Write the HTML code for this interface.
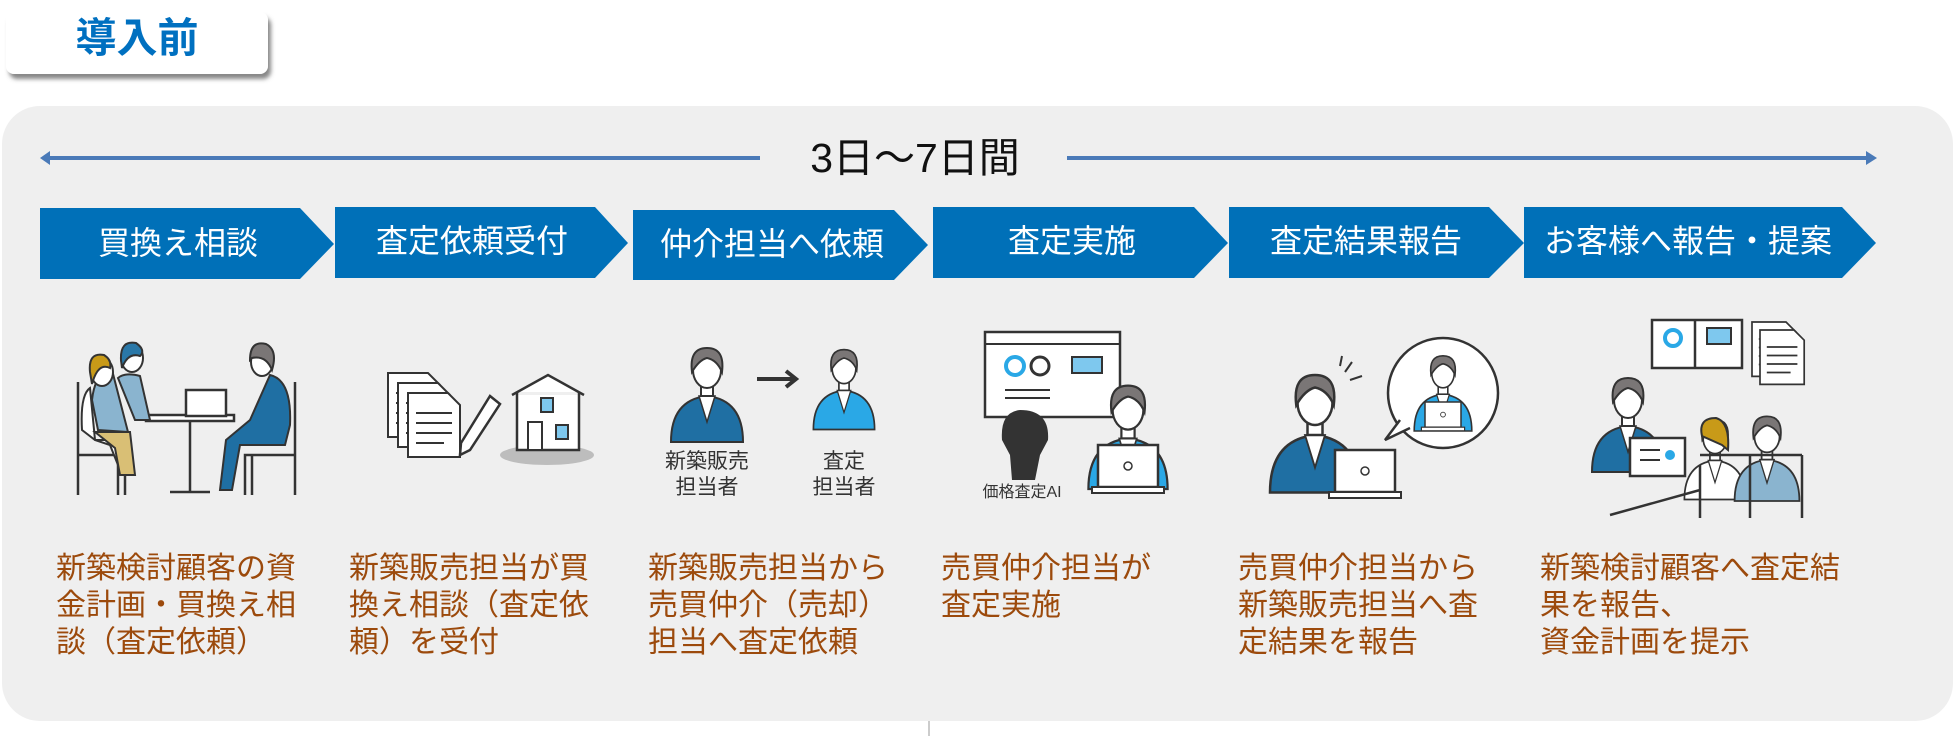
<!DOCTYPE html>
<html><head><meta charset="utf-8"><style>
html,body{margin:0;padding:0;background:#fff;}
svg{display:block;font-family:"Liberation Sans","Noto Sans CJK JP",sans-serif;}
</style></head><body>
<svg width="1955" height="736" viewBox="0 0 1955 736" xmlns="http://www.w3.org/2000/svg">
<defs>
<filter id="sh" x="-10%" y="-10%" width="130%" height="150%"><feDropShadow dx="3" dy="5" stdDeviation="2" flood-color="#555" flood-opacity="0.7"/></filter>
<g id="pers">
 <path d="M-36,70 Q-36,28 0,24 Q36,28 36,70 Z" fill="currentColor" stroke="#333" stroke-width="2"/>
 <path d="M-8,24 L0,50 L8,24 Z" fill="#fff" stroke="#333" stroke-width="1.5"/>
 <rect x="-6" y="8" width="12" height="16" fill="#fff" stroke="#333" stroke-width="2"/>
 <ellipse cx="0" cy="-2" rx="14" ry="18" fill="#fff" stroke="#333" stroke-width="2"/>
 <path d="M-15,0 Q-18,-24 0,-24 Q18,-24 15,0 Q10,-12 0,-14 Q-8,-12 -15,0Z" fill="#7a7676" stroke="#333" stroke-width="2"/>
</g>
<g id="lap">
 <rect x="0" y="0" width="60" height="42" fill="#fff" stroke="#333" stroke-width="2.5"/>
 <rect x="-6" y="42" width="72" height="6" fill="#fff" stroke="#333" stroke-width="2"/>
 <circle cx="30" cy="21" r="4" fill="none" stroke="#333" stroke-width="1.5"/>
</g>
<g id="doc">
 <path d="M0,0 H40 L52,12 V64 H0 Z" fill="#fff" stroke="#333" stroke-width="2"/>
 <path d="M8,20H44M8,30H44M8,40H44M8,50H36" stroke="#333" stroke-width="2"/>
</g>
</defs>

<!-- title -->
<rect x="6" y="12" width="262" height="62" rx="8" fill="#fff" filter="url(#sh)"/>
<text x="137" y="52" text-anchor="middle" font-size="41" font-weight="bold" fill="#0070c0">導入前</text>

<!-- panel -->
<rect x="2" y="106" width="1951" height="615" rx="38" fill="#efefef"/>
<line x1="929" y1="721" x2="929" y2="736" stroke="#bbb" stroke-width="1.5"/>

<!-- duration arrow -->
<line x1="46" y1="158" x2="760" y2="158" stroke="#4a7ab8" stroke-width="4"/>
<path d="M40,158 L50,151 L50,165 Z" fill="#4a7ab8"/>
<line x1="1067" y1="158" x2="1868" y2="158" stroke="#4a7ab8" stroke-width="4"/>
<path d="M1877,158 L1866,151 L1866,165 Z" fill="#4a7ab8"/>
<text x="915" y="172" text-anchor="middle" font-size="41" fill="#111">3日～7日間</text>

<!-- chevrons -->
<g fill="#0070b8">
 <path d="M40,208 H300 L334,244 L300,279 H40 Z"/>
 <path d="M335,207 H595 L628,243 L595,278 H335 Z"/>
 <path d="M633,210 H894 L928,245 L894,280 H633 Z"/>
 <path d="M933,207 H1194 L1228,243 L1194,278 H933 Z"/>
 <path d="M1229,207 H1489 L1524,243 L1489,278 H1229 Z"/>
 <path d="M1524,207 H1842 L1876,243 L1842,278 H1524 Z"/>
</g>
<g fill="#fff" font-size="32" text-anchor="middle">
 <text x="178" y="254">買換え相談</text>
 <text x="472" y="252">査定依頼受付</text>
 <text x="772" y="255">仲介担当へ依頼</text>
 <text x="1072" y="252">査定実施</text>
 <text x="1366" y="252">査定結果報告</text>
 <text x="1688" y="252">お客様へ報告・提案</text>
</g>

<!-- illus 1: consultation -->
<g stroke="#333" stroke-width="2.5" fill="none">
 <path d="M78,382 V495 M78,455 H125 V495 M118,455 V495"/>
 <path d="M295,382 V495 M295,455 H245 V495 M252,455 V495"/>
 <rect x="146" y="415" width="88" height="6" fill="#fff"/>
 <path d="M190,421 V492 M170,492 H210"/>
 <rect x="186" y="390" width="40" height="26" fill="#fff"/>
</g>
<g stroke="#333" stroke-width="2">
 <path d="M112,370 Q95,372 92,400 L98,430 L128,432 Z" fill="#8ab4cf"/>
 <path d="M90,388 Q80,395 82,430 L95,440 H130 L132,470 L120,470 L110,445 L95,440 Z" fill="#fff"/>
 <path d="M95,432 H130 L135,475 H120 L115,448 Z" fill="#d9bf75"/>
 <ellipse cx="102" cy="372" rx="11" ry="14" fill="#fff"/>
 <path d="M90,372 Q88,352 104,355 Q112,360 110,368 Q98,362 92,384Z" fill="#c89a18"/>
 <ellipse cx="132" cy="358" rx="11" ry="14" fill="#fff"/>
 <path d="M121,360 Q120,340 136,343 Q146,350 140,356 Q128,352 122,368Z" fill="#2a78a8"/>
 <path d="M118,378 Q125,372 140,376 L150,420 L135,420 Z" fill="#8ab4cf"/>
 <path d="M270,375 Q292,380 290,425 L285,445 H240 L232,490 H220 L226,440 L250,420 Z" fill="#1f6fa3"/>
 <ellipse cx="262" cy="362" rx="11" ry="14" fill="#fff"/>
 <path d="M250,360 Q250,340 266,344 Q278,350 272,370 Q266,355 252,358Z" fill="#7a7676"/>
</g>

<!-- illus 2: docs + house -->
<use href="#doc" x="388" y="373"/>
<use href="#doc" x="398" y="383"/>
<use href="#doc" x="408" y="393"/>
<path d="M490,396 L500,404 L470,450 L460,455 L461,443 Z" fill="#fff" stroke="#333" stroke-width="2.5"/>
<ellipse cx="547" cy="455" rx="47" ry="10" fill="#bdbdbd"/>
<path d="M512,395 L548,375 L584,395 M517,392 V450 H579 V392" fill="#fff" stroke="#333" stroke-width="2.5"/>
<rect x="541" y="398" width="12" height="14" fill="#7ec8ee" stroke="#333" stroke-width="2"/>
<rect x="556" y="425" width="12" height="14" fill="#7ec8ee" stroke="#333" stroke-width="2"/>
<rect x="528" y="422" width="14" height="28" fill="#fff" stroke="#333" stroke-width="2"/>

<!-- illus 3: two persons -->
<use href="#pers" x="707" y="372" style="color:#1f6fa3"/>
<use href="#pers" transform="translate(844,370) scale(0.85)" style="color:#2aa8e6"/>
<path d="M757,379 H794 M786,371 L796,379 L786,387" stroke="#333" stroke-width="4" fill="none"/>
<g font-size="21" fill="#333" text-anchor="middle">
 <text x="707" y="468">新築販売</text><text x="707" y="494">担当者</text>
 <text x="844" y="468">査定</text><text x="844" y="494">担当者</text>
</g>

<!-- illus 4: AI -->
<rect x="985" y="332" width="135" height="85" fill="#fff" stroke="#333" stroke-width="2.5"/>
<line x1="985" y1="344" x2="1120" y2="344" stroke="#333" stroke-width="2"/>
<circle cx="1015" cy="366" r="9" fill="#fff" stroke="#2aa8e6" stroke-width="4"/>
<circle cx="1040" cy="366" r="9" fill="#fff" stroke="#333" stroke-width="3"/>
<rect x="1072" y="357" width="30" height="16" fill="#7ec8ee" stroke="#333" stroke-width="2"/>
<path d="M1005,390 H1050 M1005,398 H1050" stroke="#333" stroke-width="2"/>
<path d="M1020,410 Q1000,412 1002,440 L1010,455 L1012,480 H1035 L1040,455 L1048,440 Q1050,410 1020,410Z" fill="#333"/>
<text x="1022" y="497" font-size="16" fill="#333" text-anchor="middle">価格査定AI</text>
<use href="#pers" transform="translate(1128,412) scale(1.1)" style="color:#2aa8e6"/>
<use href="#lap" x="1098" y="445"/>

<!-- illus 5: phone -->
<circle cx="1443" cy="393" r="55" fill="#fff" stroke="#333" stroke-width="2.5"/>
<path d="M1400,420 L1385,440 L1410,428" fill="#fff" stroke="#333" stroke-width="2.5"/>
<use href="#pers" transform="translate(1443,375) scale(0.8)" style="color:#2aa8e6"/>
<use href="#lap" transform="translate(1425,402) scale(0.6)"/>
<use href="#pers" transform="translate(1315,405) scale(1.25)" style="color:#1f6fa3"/>
<path d="M1345,372 L1352,362 M1350,380 L1362,376 M1340,366 L1342,356" stroke="#333" stroke-width="2"/>
<use href="#lap" x="1335" y="450"/>

<!-- illus 6: report -->
<path d="M1652,320 H1695 V368 H1652 Z M1695,320 H1742 V368 H1695Z" fill="#fff" stroke="#333" stroke-width="2.5"/>
<circle cx="1673" cy="338" r="8" fill="#fff" stroke="#2aa8e6" stroke-width="4"/>
<rect x="1707" y="328" width="24" height="16" fill="#7ec8ee" stroke="#333" stroke-width="2"/>
<use href="#doc" transform="translate(1752,322) scale(0.85)"/>
<use href="#doc" transform="translate(1760,330) scale(0.85)"/>
<use href="#pers" transform="translate(1628,402) scale(1.0)" style="color:#1f6fa3"/>
<rect x="1630" y="438" width="55" height="38" fill="#fff" stroke="#333" stroke-width="2.5"/>
<circle cx="1670" cy="455" r="5" fill="#2aa8e6"/>
<path d="M1640,450 H1660 M1640,460 H1660" stroke="#333" stroke-width="2"/>
<use href="#pers" transform="translate(1715,440) scale(0.85)" style="color:#fff"/>
<path d="M1702,436 Q1698,418 1716,418 Q1730,422 1728,450 L1722,445Z" fill="#c89a18" stroke="#333" stroke-width="2"/>
<use href="#pers" transform="translate(1767,438) scale(0.9)" style="color:#8ab4cf"/>
<path d="M1610,515 L1700,490 M1700,465 V518 M1750,455 V518 M1802,455 V518 M1700,455 H1802" stroke="#333" stroke-width="2.5" fill="none"/>

<!-- descriptions -->
<g font-size="30" fill="#9c4a0c">
 <text x="56" y="578">新築検討顧客の資</text><text x="56" y="615">金計画・買換え相</text><text x="56" y="652">談（査定依頼）</text>
 <text x="349" y="578">新築販売担当が買</text><text x="349" y="615">換え相談（査定依</text><text x="349" y="652">頼）を受付</text>
 <text x="648" y="578">新築販売担当から</text><text x="648" y="615">売買仲介（売却）</text><text x="648" y="652">担当へ査定依頼</text>
 <text x="941" y="578">売買仲介担当が</text><text x="941" y="615">査定実施</text>
 <text x="1238" y="578">売買仲介担当から</text><text x="1238" y="615">新築販売担当へ査</text><text x="1238" y="652">定結果を報告</text>
 <text x="1540" y="578">新築検討顧客へ査定結</text><text x="1540" y="615">果を報告、</text><text x="1540" y="652">資金計画を提示</text>
</g>
</svg>
</body></html>
